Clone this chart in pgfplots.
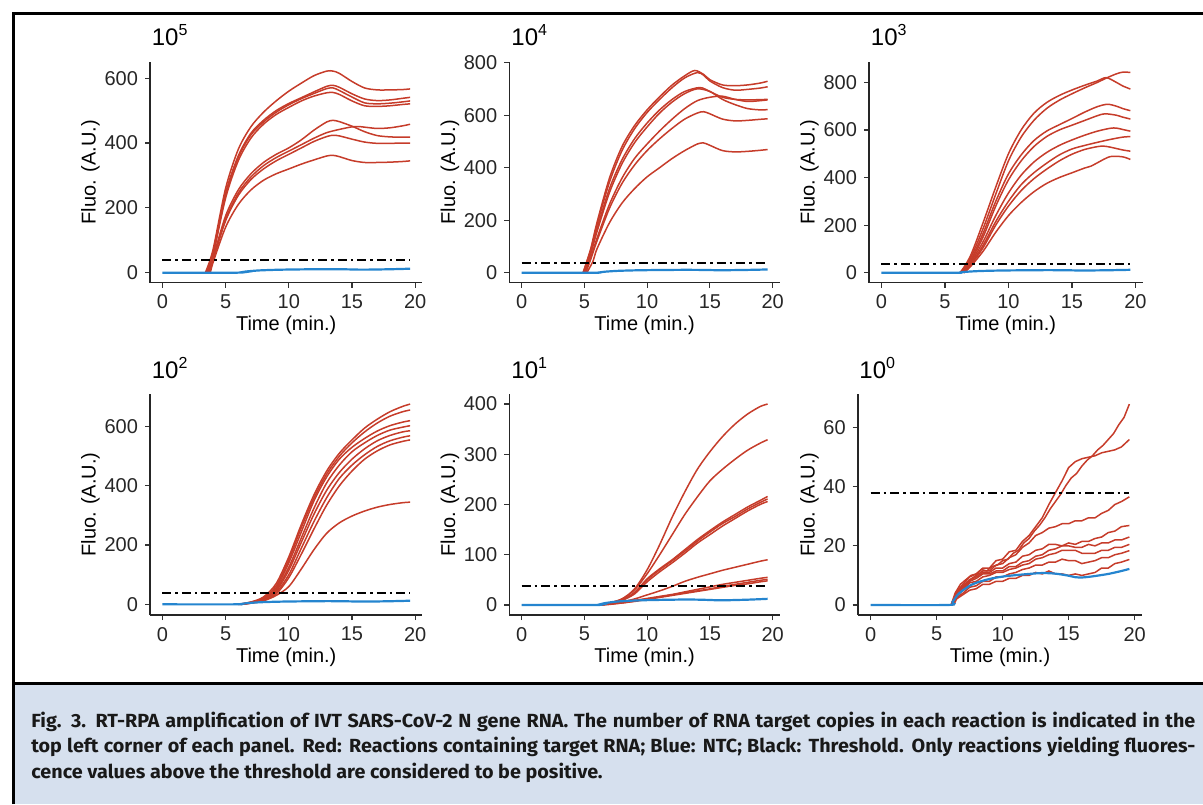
\documentclass[border=0pt]{standalone}
\usepackage{fontspec}
\setmainfont{Liberation Sans}
\newfontfamily\capfont[FakeStretch=1.04]{Fira Sans}
\usepackage{pgfplots}
\pgfplotsset{compat=1.18}
\definecolor{rred}{RGB}{198,60,42}
\definecolor{nblue}{RGB}{37,133,207}
\definecolor{capbg}{RGB}{214,224,238}
\definecolor{captext}{RGB}{25,25,25}

\pgfplotsset{
  panel/.style={
    scale only axis,
    anchor=south west,
    axis lines=left,
    axis line style={-, line width=0.8pt, black!85},
    xmin=-0.98, xmax=20.58,
    xtick={0,5,10,15,20},
    tick align=outside,
    major tick length=2.5pt,
    tick style={line width=0.6pt, black!80},
    minor tick num=0,
    tick label style={font=\fontsize{10}{11}\selectfont, text=black!85},
    label style={font=\fontsize{10}{11}\selectfont, text=black},
    /pgf/number format/assume math mode=true,
    xlabel={Time (min.)},
    ylabel={Fluo. (A.U.)},
    xlabel style={yshift=3.5pt},
    ylabel style={yshift=-4.5pt},
    height=110.5pt,
  },
  rc/.style={rred, line width=0.75pt, smooth, tension=0.5, no markers},
  rcs/.style={rred, line width=0.75pt, no markers},
  bc/.style={nblue, line width=1.1pt, smooth, tension=0.5, no markers},
  th/.style={black, line width=0.85pt, dash pattern=on 4.5pt off 2pt on 1.25pt off 2pt, no markers},
}

\pgfplotstableread{
t v
0 0
5.9 0
6.2 1
6.6 3.5
7 5
7.5 6.5
8 7.5
9 8.8
10 9.6
11 10.1
12 10.5
13 10.8
14 10.6
15 9.9
15.5 9.4
16 9.3
16.5 9.5
17 9.8
18 10.5
19 11.5
19.6 12.2
}\ntc

\newcommand{\ttl}[1]{10\raisebox{0.42em}{\fontsize{8}{8}\selectfont #1}}

\begin{document}
\begin{tikzpicture}
\begin{scope}[x=0.5pt,y=0.5pt]
\useasboundingbox (0,0) rectangle (1203,804);
\fill[capbg] (15,0) rectangle (1203,119);
\draw[line width=1.75pt] (13.5,0) -- (13.5,790.5) -- (1203,790.5);
\draw[line width=1.75pt] (13.5,120.5) -- (1203,120.5);
\end{scope}

% ---------- Panel 1: 10^5
\begin{axis}[panel, at={(75pt,260.65pt)}, width=136.25pt, ymin=-31, ymax=651, ytick={0,200,400,600}]
\addplot[rc] coordinates {(3.4,0)(4,70)(5,260)(6,380)(7,450)(8,495)(9,530)(10,560)(11,585)(12,608)(13,622)(13.5,622)(14,615)(15,590)(16,570)(17,564)(18,564)(19,565)(19.6,567)};
\addplot[rc] coordinates {(3.5,0)(4,60)(5,245)(6,360)(7,430)(8,470)(9,500)(10,522)(11,540)(12,558)(13,575)(13.5,578)(14,572)(15,552)(16,536)(17,531)(18,533)(19,538)(19.6,541)};
\addplot[rc] coordinates {(3.5,0)(4,55)(5,240)(6,355)(7,425)(8,465)(9,495)(10,518)(11,537)(12,553)(13,568)(13.5,570)(14,562)(15,542)(16,524)(17,521)(18,523)(19,527)(19.6,530)};
\addplot[rc] coordinates {(3.6,0)(4,50)(5,230)(6,345)(7,415)(8,458)(9,488)(10,510)(11,530)(12,545)(13,555)(13.5,556)(14,550)(15,530)(16,515)(17,513)(18,515)(19,519)(19.6,521)};
\addplot[rc] coordinates {(3.6,0)(4,45)(5,175)(6,255)(7,305)(8,340)(9,365)(10,385)(11,410)(12,440)(13,465)(13.5,470)(14,466)(15,452)(16,435)(17,423)(18,419)(19,418)(19.6,418)};
\addplot[rc] coordinates {(3.7,0)(4,40)(5,165)(6,245)(7,295)(8,330)(9,355)(10,375)(11,395)(12,415)(13,432)(14,442)(15,450)(15.5,451)(16,449)(17,445)(18,447)(19,453)(19.6,458)};
\addplot[rc] coordinates {(3.7,0)(4,38)(5,160)(6,238)(7,287)(8,320)(9,345)(10,365)(11,385)(12,405)(13,420)(13.5,424)(14,422)(15,412)(16,403)(17,399)(18,399)(19,400)(19.6,400)};
\addplot[rc] coordinates {(3.8,0)(4,30)(5,140)(6,210)(7,255)(8,285)(9,305)(10,320)(11,335)(12,348)(13,360)(13.5,362)(14,358)(15,346)(16,340)(17,340)(18,341)(19,343)(19.6,345)};
\addplot[bc] table[x=t,y=v] {\ntc};
\addplot[th] coordinates {(0,38)(19.6,38)};
\end{axis}

% ---------- Panel 2: 10^4
\begin{axis}[panel, at={(254.65pt,260.65pt)}, width=135.3pt, ymin=-38.2, ymax=803.5, ytick={0,200,400,600,800}]
\addplot[rc] coordinates {(4.9,0)(5.5,90)(6,190)(7,360)(8,480)(9,560)(10,620)(11,670)(12,715)(13,750)(13.8,770)(14.5,755)(15,735)(16,715)(17,712)(18,715)(19,722)(19.6,729)};
\addplot[rc] coordinates {(4.9,0)(5.5,85)(6,180)(7,345)(8,465)(9,548)(10,610)(11,660)(12,705)(13,742)(14,762)(14.5,752)(15,730)(16,705)(17,695)(18,698)(19,703)(19.6,708)};
\addplot[rc] coordinates {(5.0,0)(5.5,75)(6,165)(7,320)(8,430)(9,510)(10,570)(11,620)(12,660)(13,690)(14.2,705)(15,690)(16,668)(17,660)(18,658)(19,659)(19.6,660)};
\addplot[rc] coordinates {(5.0,0)(5.5,70)(6,155)(7,305)(8,415)(9,495)(10,555)(11,608)(12,650)(13,682)(14,700)(15,690)(16,660)(17,640)(18,625)(19,620)(19.6,621)};
\addplot[rc] coordinates {(5.1,0)(5.5,55)(6,130)(7,260)(8,360)(9,435)(10,490)(11,540)(12,585)(13,625)(14,655)(15,668)(16,672)(17,660)(18,652)(19,655)(19.6,658)};
\addplot[rc] coordinates {(5.1,0)(5.5,50)(6,120)(7,245)(8,340)(9,410)(10,465)(11,510)(12,550)(13,585)(14,608)(14.5,613)(15,605)(16,585)(17,578)(18,580)(19,584)(19.6,586)};
\addplot[rc] coordinates {(5.2,0)(5.7,45)(6,90)(7,190)(8,265)(9,320)(10,365)(11,400)(12,435)(13,465)(14,490)(14.5,494)(15,485)(16,465)(17,460)(18,462)(19,466)(19.6,469)};
\addplot[bc] table[x=t,y=v] {\ntc};
\addplot[th] coordinates {(0,38)(19.6,38)};
\end{axis}

% ---------- Panel 3: 10^3
\begin{axis}[panel, at={(434.5pt,260.65pt)}, width=136.9pt, ymin=-42, ymax=887, ytick={0,200,400,600,800}]
\addplot[rc] coordinates {(6.2,0)(7,60)(8,185)(9,330)(10,470)(11,570)(12,640)(13,690)(14,725)(15,752)(16,777)(17,800)(17.7,818)(18.5,836)(19,843)(19.6,842)};
\addplot[rc] coordinates {(6.2,0)(7,70)(8,210)(9,360)(10,500)(11,600)(12,670)(13,715)(14,745)(15,768)(16,788)(17,806)(17.7,820)(18.5,800)(19,785)(19.6,772)};
\addplot[rc] coordinates {(6.3,0)(7,50)(8,165)(9,300)(10,415)(11,495)(12,555)(13,595)(14,622)(15,648)(16,675)(17,698)(17.8,708)(18.5,700)(19,690)(19.6,681)};
\addplot[rc] coordinates {(6.3,0)(7,45)(8,150)(9,280)(10,390)(11,470)(12,530)(13,572)(14,600)(15,620)(16,640)(17,660)(17.6,668)(18.5,662)(19,654)(19.6,646)};
\addplot[rc] coordinates {(6.4,0)(7,40)(8,130)(9,240)(10,335)(11,410)(12,465)(13,505)(14,535)(15,558)(16,578)(17,595)(18,607)(18.5,608)(19,602)(19.6,595)};
\addplot[rc] coordinates {(6.4,0)(7,35)(8,115)(9,215)(10,300)(11,370)(12,420)(13,460)(14,495)(15,520)(16,535)(17,548)(18,560)(19,570)(19.6,572)};
\addplot[rc] coordinates {(6.5,0)(7,30)(8,105)(9,200)(10,280)(11,345)(12,395)(13,435)(14,470)(15,498)(16,518)(17,530)(17.5,532)(18,528)(19,516)(19.6,511)};
\addplot[rc] coordinates {(6.5,0)(7,25)(8,90)(9,170)(10,240)(11,295)(12,340)(13,375)(14,400)(15,420)(16,440)(16.5,448)(17,462)(18,488)(19,487)(19.6,476)};
\addplot[bc] table[x=t,y=v] {\ntc};
\addplot[th] coordinates {(0,38)(19.6,38)};
\end{axis}

% ---------- Panel 4: 10^2
\begin{axis}[panel, at={(75pt,94.5pt)}, width=136.25pt, ymin=-36, ymax=710, ytick={0,200,400,600}]
\addplot[rc] coordinates {(6,0)(7,8)(8,25)(9,70)(10,160)(11,270)(12,370)(13,450)(14,510)(15,555)(16,595)(17,625)(18,650)(19,668)(19.6,676)};
\addplot[rc] coordinates {(6,0)(7,7)(8,22)(9,62)(10,150)(11,260)(12,360)(13,440)(14,500)(15,545)(16,582)(17,612)(18,635)(19,650)(19.6,656)};
\addplot[rc] coordinates {(6.1,0)(7,6)(8,20)(9,55)(10,140)(11,245)(12,350)(13,430)(14,490)(15,530)(16,560)(17,585)(18,603)(19,615)(19.6,620)};
\addplot[rc] coordinates {(6.1,0)(7,6)(8,18)(9,50)(10,125)(11,225)(12,325)(13,410)(14,470)(15,515)(16,545)(17,570)(18,588)(19,598)(19.6,603)};
\addplot[rc] coordinates {(6.1,0)(7,5)(8,16)(9,45)(10,115)(11,210)(12,305)(13,385)(14,445)(15,490)(16,525)(17,552)(18,570)(19,582)(19.6,586)};
\addplot[rc] coordinates {(6.2,0)(7,5)(8,15)(9,40)(10,100)(11,190)(12,280)(13,360)(14,425)(15,470)(16,505)(17,533)(18,552)(19,564)(19.6,569)};
\addplot[rc] coordinates {(6.2,0)(7,4)(8,13)(9,35)(10,90)(11,170)(12,255)(13,335)(14,400)(15,450)(16,490)(17,518)(18,538)(19,550)(19.6,555)};
\addplot[rc] coordinates {(6.2,0)(7,4)(8,12)(9,30)(10,60)(11,120)(12,185)(13,240)(14,275)(15,298)(16,315)(17,328)(18,337)(19,343)(19.6,345)};
\addplot[bc] table[x=t,y=v] {\ntc};
\addplot[th] coordinates {(0,38)(19.6,38)};
\end{axis}

% ---------- Panel 5: 10^1
\begin{axis}[panel, at={(254.65pt,94.5pt)}, width=135.3pt, ymin=-20, ymax=420, ytick={0,100,200,300,400}]
\addplot[rc] coordinates {(6.2,0)(7,4)(8,12)(9,32)(10,70)(11,120)(12,175)(13,225)(14,270)(15,305)(16,335)(17,360)(18,380)(19,395)(19.6,400)};
\addplot[rc] coordinates {(6.2,0)(7,4)(8,12)(9,30)(10,62)(11,100)(12,140)(13,180)(14,215)(15,247)(16,270)(17,290)(18,308)(19,322)(19.6,329)};
\addplot[rc] coordinates {(6.2,0)(7,3)(8,10)(9,25)(10,52)(11,72)(12,90)(13,110)(14,130)(15,148)(16,165)(17,180)(18,195)(19,208)(19.6,216)};
\addplot[rc] coordinates {(6.2,0)(7,3)(8,10)(9,24)(10,50)(11,70)(12,88)(13,107)(14,127)(15,145)(16,162)(17,176)(18,191)(19,204)(19.6,211)};
\addplot[rc] coordinates {(6.2,0)(7,3)(8,9)(9,22)(10,46)(11,66)(12,84)(13,103)(14,123)(15,140)(16,157)(17,172)(18,187)(19,200)(19.6,206)};
\addplot[rc] coordinates {(6.2,0)(7,2)(8,6)(9,12)(10,20)(11,28)(12,37)(13,47)(14,55)(15,62)(16,69)(17,75)(18,81)(19,87)(19.6,90)};
\addplot[rc] coordinates {(6.2,0)(7,2)(8,5)(9,9)(10,13)(11,17)(12,21)(13,26)(14,31)(15,36)(16,41)(17,45)(18,49)(19,53)(19.6,55)};
\addplot[rc] coordinates {(6.2,0)(7,2)(8,4)(9,8)(10,12)(11,16)(12,20)(13,24)(14,28)(15,32)(16,37)(17,41)(18,45)(19,49)(19.6,51)};
\addplot[rc] coordinates {(6.3,0)(7,1)(8,4)(9,7)(10,11)(11,15)(12,19)(13,23)(14,27)(15,31)(16,35)(17,39)(18,42)(19,46)(19.6,48)};
\addplot[bc] table[x=t,y=v] {\ntc};
\addplot[th] coordinates {(0,38)(19.6,38)};
\end{axis}

% ---------- Panel 6: 10^0
\begin{axis}[panel, at={(428.85pt,94.5pt)}, width=142.3pt, ymin=-3.4, ymax=71.4, ytick={0,20,40,60}]
\addplot[rcs] coordinates {(6.1,0)(6.4,4)(6.8,7)(7.2,8.5)(7.6,10)(8,10.5)(8.4,12)(8.8,11.5)(9.2,13)(9.6,13.5)(10,15)(10.4,15.5)(10.8,17.5)(11.2,18.5)(11.6,21)(12,22.5)(12.4,25)(12.8,27)(13.2,29.5)(13.6,32.5)(14,35)(14.4,37.5)(14.8,40.5)(15.2,43)(15.6,44.5)(16,47)(16.4,49)(16.8,50.5)(17.2,52.5)(17.6,54)(18,56)(18.4,58)(18.8,61)(19.2,63.5)(19.6,68)};
\addplot[rcs] coordinates {(6.1,0)(6.5,4.5)(7,7)(7.5,9.5)(8,10.5)(8.5,12.5)(9,12.5)(9.5,15)(10,15.5)(10.5,18)(11,18.5)(11.5,21.5)(12,23.5)(12.5,26.5)(13,29.5)(13.5,34)(14,38)(14.5,42)(15,46.5)(15.5,48.5)(16,49.5)(16.5,50)(17,50.5)(17.5,51.5)(18,52)(18.5,52.5)(19,53.5)(19.6,56)};
\addplot[rcs] coordinates {(6.1,0)(6.5,4)(7,6.5)(7.5,8.5)(8,10)(8.5,11.5)(9,11.5)(9.5,13.5)(10,14)(10.5,16)(11,17)(11.5,19.5)(12,21)(12.5,23.5)(13,24.5)(13.5,26)(14,26.5)(14.5,27.5)(15,27.5)(15.5,28.5)(16,28.5)(16.5,29.5)(17,29.5)(17.5,31)(18,32)(18.5,34)(19,35)(19.6,36.6)};
\addplot[rcs] coordinates {(6.1,0)(6.5,3.5)(7,6)(7.5,8.5)(8,9.5)(8.5,11)(9,11)(9.5,12.5)(10,12.5)(10.5,14)(11,14.5)(11.5,16.5)(12,17)(12.5,18.5)(13,19)(13.5,20.5)(14,20.5)(14.5,20)(15,21)(15.5,20.5)(16,21.5)(16.5,21.5)(17,22.5)(17.5,23)(18,24.5)(18.5,25)(19,26.5)(19.6,26.9)};
\addplot[rcs] coordinates {(6.2,0)(6.5,3)(7,5.5)(7.5,8)(8,9)(8.5,10.5)(9,10.5)(9.5,11.5)(10,11.5)(10.5,13)(11,13)(11.5,14.5)(12,15)(12.5,16.5)(13,17)(13.5,18.5)(14,19)(14.5,20)(15,20)(15.5,19.5)(16,19.5)(16.5,20.5)(17,20)(17.5,21)(18,21)(18.5,22)(19,22)(19.6,23)};
\addplot[rcs] coordinates {(6.2,0)(6.5,3)(7,5)(7.5,7.5)(8,8)(8.5,9.5)(9,10)(9.5,11)(10,11)(10.5,12)(11,12.5)(11.5,13.5)(12,14)(12.5,15.5)(13,16)(13.5,17)(14,17.5)(14.5,18.5)(15,18.5)(15.5,18.5)(16,17.5)(16.5,17.5)(17,17.5)(17.5,18.5)(18,18.5)(18.5,19.5)(19,19.5)(19.6,20.5)};
\addplot[rcs] coordinates {(6.2,0)(6.5,2.5)(7,4)(7.5,6)(8,6.5)(8.5,8)(9,8)(9.5,9.5)(10,9.5)(10.5,10.5)(11,11)(11.5,12)(12,12.5)(12.5,13.5)(13,13.5)(13.5,14.5)(14,14.5)(14.5,15.5)(15,15)(15.5,15)(16,14)(16.5,14.5)(17,15)(17.5,16)(18,16)(18.5,17)(19,17.5)(19.6,18.4)};
\addplot[rcs] coordinates {(6.3,0)(6.5,2)(7,3.5)(7.5,5)(8,5.5)(8.5,7)(9,7)(9.5,8)(10,8)(10.5,9)(11,9)(11.5,10)(12,10)(12.5,11)(13,10.5)(13.5,11.5)(14,10.5)(14.5,10.5)(15,10)(15.5,10.5)(16,10)(16.5,10.5)(17,11)(17.5,12.5)(18,12.5)(18.5,14)(19,14.5)(19.6,15.4)};
\addplot[bc] table[x=t,y=v] {\ntc};
\addplot[th] coordinates {(0,38)(19.6,38)};
\end{axis}

\begin{scope}[x=0.5pt,y=0.5pt]
% ---------- panel titles
\begin{scope}[every node/.style={anchor=base west, inner sep=0pt, font=\fontsize{12}{13}\selectfont}]
\node at (151.5,758) {\ttl{5}};
\node at (511,758) {\ttl{4}};
\node at (870.5,758) {\ttl{3}};
\node at (151.5,425.7) {\ttl{2}};
\node at (511,425.7) {\ttl{1}};
\node at (859,425.7) {\ttl{0}};
\end{scope}

% ---------- caption
\begin{scope}[every node/.style={anchor=base west, inner sep=0pt, text=captext, font=\capfont\fontsize{9.5}{10}\selectfont\bfseries}]
\node at (31,77) {\makebox[582pt][s]{Fig. 3. RT-RPA amplification of IVT SARS-CoV-2 N gene RNA. The number of RNA target copies in each reaction is indicated in the}};
\node at (31,51.5) {\makebox[582pt][s]{top left corner of each panel. Red: Reactions containing target RNA; Blue: NTC; Black: Threshold. Only reactions yielding fluores-}};
\node at (31,26) {cence values above the threshold are considered to be positive.};
\end{scope}
\end{scope}
\end{tikzpicture}
\end{document}
